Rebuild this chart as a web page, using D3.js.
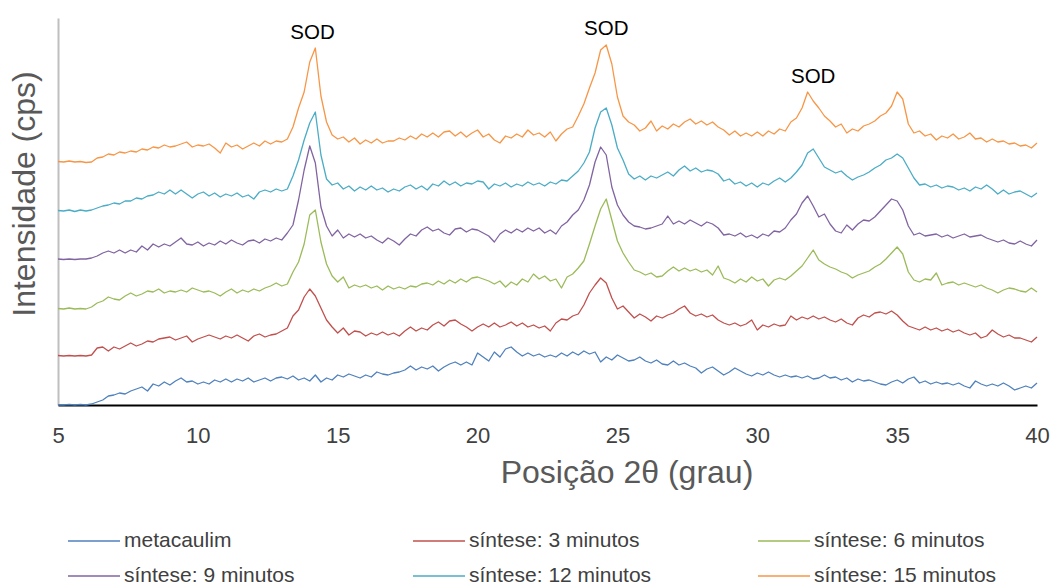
<!DOCTYPE html>
<html>
<head>
<meta charset="utf-8">
<script src="https://cdn.jsdelivr.net/npm/d3@7"></script>
<style>
  html, body { margin: 0; padding: 0; background: #fff; }
  svg { display: block; font-family: "Liberation Sans", Arial, sans-serif; }
</style>
</head>
<body>
<svg id="chart" width="1051" height="587"></svg>
<script>
// 2θ positions (degrees), one sample every 0.2°
const twoTheta = d3.range(176).map(i => +(5 + 0.2 * i).toFixed(1));
const xTicks = [5, 10, 15, 20, 25, 30, 35, 40];

// Stacked diffractogram intensities (arbitrary units, offsets included as plotted)
const metacaulim = [
  0, 0, 0.5, 0, 0.5, 0, 1, 3, 5, 9,
  10, 12, 11, 14, 16, 18, 14, 21, 19, 23,
  20, 24, 27, 23, 24, 21, 23, 21, 25, 23,
  26, 23, 26, 24, 27, 23, 25, 27, 24, 27,
  28, 26, 29, 25, 27, 24, 30, 23, 27, 25,
  30, 28, 31, 29, 27, 30, 28, 33, 31, 30,
  32, 33, 35, 39, 35, 38, 36, 39, 34, 38,
  41, 43, 40, 43, 40, 52, 48, 44, 53, 48,
  56, 58, 53, 49, 52, 49, 51, 48, 50, 48,
  52, 49, 53, 50, 54, 51, 53, 43, 48, 45,
  50, 47, 44, 45, 48, 44, 42, 45, 41, 40,
  44, 40, 42, 39, 37, 32, 36, 38, 34, 30,
  33, 37, 34, 31, 29, 32, 30, 33, 30, 28,
  30, 28, 29, 27, 29, 26, 27, 30, 27, 28,
  25, 27, 23, 26, 24, 25, 23, 21, 20, 23,
  25, 22, 26, 28, 22, 24, 21, 23, 21, 22,
  20, 22, 19, 17, 24, 21, 19, 21, 19, 22,
  19, 15, 17, 19, 17, 22
];
const sintese3 = [
  49.5, 49, 49.5, 49, 49.5, 49, 50, 57, 58, 54,
  58, 56, 59, 62, 59, 61, 64, 63, 66, 67,
  68, 65, 67, 69, 63, 66, 68, 70, 68, 66,
  69, 67, 70, 67, 64, 69, 71, 68, 70, 71,
  74, 77, 89, 95, 108, 116, 109, 97, 85, 78,
  72, 77, 70, 74, 73, 69, 72, 70, 73, 70,
  72, 69, 74, 78, 74, 77, 75, 80, 83, 79,
  84, 85, 81, 78, 74, 78, 81, 78, 82, 78,
  80, 83, 79, 82, 78, 80, 77, 79, 74, 82,
  86, 85, 89, 91, 100, 112, 120, 127, 122, 107,
  96, 99, 93, 87, 91, 88, 84, 89, 87, 90,
  92, 96, 99, 92, 89, 91, 88, 90, 85, 82,
  80, 82, 79, 81, 85, 75, 80, 78, 81, 79,
  80, 89, 85, 88, 86, 89, 86, 88, 85, 83,
  86, 82, 80, 87, 90, 88, 92, 93, 91, 94,
  90, 84, 79, 77, 75, 78, 75, 77, 74, 76,
  73, 75, 72, 70, 72, 67, 69, 75, 71, 68,
  70, 67, 67, 65, 63, 68
];
const sintese6 = [
  96.5, 96, 97, 96, 96.5, 96, 98, 102, 104, 108,
  106, 105, 109, 112, 109, 111, 114, 113, 116, 112,
  114, 113, 115, 113, 117, 115, 113, 114, 112, 109,
  113, 116, 112, 115, 113, 116, 114, 117, 119, 122,
  119, 121, 133, 143, 161, 190, 195, 163, 141, 129,
  123, 128, 117, 120, 118, 120, 117, 119, 115, 119,
  116, 118, 116, 119, 118, 121, 122, 120, 124, 121,
  125, 122, 126, 123, 127, 128, 126, 124, 121, 124,
  118, 123, 120, 126, 123, 131, 126, 129, 124, 126,
  117, 128, 131, 137, 144, 161, 179, 196, 206, 185,
  164, 152, 143, 135, 133, 130, 132, 128, 129, 134,
  138, 134, 137, 134, 136, 133, 135, 130, 139, 127,
  125, 122, 126, 123, 128, 124, 126, 119, 125, 127,
  125, 129, 134, 139, 147, 155, 145, 141, 138, 136,
  133, 131, 127, 130, 132, 134, 138, 141, 146, 152,
  158, 151, 133, 125, 123, 126, 125, 132, 120, 122,
  123, 120, 122, 120, 118, 120, 117, 115, 112, 115,
  117, 116, 114, 113, 117, 113
];
const sintese9 = [
  146, 145.5, 146, 145.5, 146, 146, 147, 149, 152, 154,
  152, 155, 152, 155, 153, 159, 155, 161, 158, 161,
  159, 163, 167, 161, 160, 163, 159, 162, 160, 164,
  161, 165, 162, 160, 164, 165, 162, 166, 164, 167,
  165, 172, 180, 205, 235, 259, 242, 198, 179, 169,
  175, 167, 171, 168, 171, 167, 169, 165, 162, 167,
  164, 160, 166, 171, 169, 175, 178, 174, 176, 172,
  170, 176, 177, 173, 176, 175, 172, 169, 163, 171,
  175, 172, 176, 173, 177, 174, 177, 172, 175, 171,
  179, 183, 190, 195, 205, 220, 243, 258, 250, 218,
  200, 190, 183, 179, 178, 176, 177, 179, 181, 189,
  181, 184, 181, 185, 182, 179, 183, 181, 177, 170,
  171, 169, 172, 168, 170, 167, 171, 169, 174, 173,
  177, 185, 191, 202, 209, 199, 188, 191, 181, 174,
  172, 180, 175, 181, 185, 184, 188, 194, 200, 206,
  204, 195, 179, 170, 172, 169, 170, 171, 168, 170,
  167, 169, 171, 168, 169, 170, 167, 165, 163, 165,
  162, 161, 164, 161, 159, 165
];
const sintese12 = [
  194.5, 194, 195, 193.5, 195, 194, 195, 197, 199, 200,
  202, 201, 204, 204, 207, 206, 209, 210, 213, 211,
  215, 211, 215, 211, 207, 211, 213, 209, 212, 208,
  211, 209, 212, 208, 210, 206, 213, 215, 213, 216,
  214, 216, 229, 245, 265, 282, 293, 250, 226, 220,
  222, 216, 219, 214, 218, 215, 219, 215, 217, 213,
  216, 214, 218, 220, 216, 219, 215, 221, 219, 224,
  220, 223, 219, 222, 221, 224, 223, 216, 221, 219,
  222, 218, 221, 219, 223, 220, 222, 219, 223, 221,
  225, 224, 229, 234, 242, 253, 277, 293, 297, 280,
  257, 245, 231, 226, 229, 225, 229, 227, 230, 233,
  229, 235, 239, 234, 237, 233, 235, 234, 231, 224,
  226, 221, 223, 219, 222, 218, 222, 220, 224, 227,
  223, 227, 233, 240, 252, 256, 247, 238, 235, 232,
  234, 229, 225, 228, 230, 233, 237, 240, 245, 247,
  251, 247, 237, 227, 220, 221, 218, 220, 217, 219,
  218, 215, 217, 214, 218, 216, 220, 216, 211, 215,
  211, 213, 214, 211, 208, 212
];
const sintese15 = [
  243.5, 243, 244, 243, 243.5, 242.5, 243, 247, 248, 251,
  250, 253, 252, 254, 253, 256, 255, 258, 257, 260,
  258, 259, 261, 263, 258, 260, 259, 261, 257, 252,
  262, 258, 260, 256, 259, 262, 259, 264, 261, 264,
  263, 266, 278, 297, 313, 343, 357, 309, 283, 270,
  266, 268, 263, 267, 261, 265, 262, 266, 262, 264,
  264, 267, 265, 269, 266, 271, 268, 272, 268, 273,
  274, 269, 273, 268, 272, 275, 268, 271, 265, 262,
  269, 267, 271, 268, 275, 270, 272, 268, 273, 264,
  271, 276, 278, 289, 301, 317, 332, 355, 360, 341,
  308, 289, 283, 280, 274, 277, 284, 274, 279, 276,
  281, 278, 283, 286, 281, 284, 280, 283, 278, 275,
  270, 274, 269, 272, 269, 273, 269, 274, 271, 276,
  274, 283, 287, 297, 313, 304, 297, 289, 284, 278,
  281, 272, 276, 274, 279, 281, 284, 289, 292, 299,
  313, 306, 281, 272, 274, 269, 271, 265, 269, 267,
  271, 266, 268, 272, 266, 267, 263, 266, 263, 264,
  261, 262, 259, 260, 257, 262
];

const seriesNames = ["metacaulim", "síntese: 3 minutos", "síntese: 6 minutos",
                     "síntese: 9 minutos", "síntese: 12 minutos", "síntese: 15 minutos"];
const seriesValues = [metacaulim, sintese3, sintese6, sintese9, sintese12, sintese15];
const seriesColors = ["#4F81BD", "#C0504D", "#9BBB59", "#8064A2", "#4BACC6", "#F79646"];

const peakLabels = ["SOD", "SOD", "SOD"];
const peakPositions = [14.1, 24.6, 32.0];
const peakLabelValues = [366, 370, 322];

// ---- drawing ----
const svg = d3.select("#chart");
const x = d3.scaleLinear().domain([5, 40]).range([58, 1037]);
const y = d3.scaleLinear().domain([0, 387]).range([405, 18]);

// left (value) axis: line only
const yAxis = svg.append("g")
  .attr("transform", `translate(${x(5)},0)`)
  .call(d3.axisLeft(y).tickValues([]).tickSize(0).tickSizeOuter(0));
yAxis.select(".domain").attr("stroke", "#BFBFBF").attr("stroke-width", 2);

// bottom axis
const xAxis = svg.append("g")
  .attr("transform", `translate(0,${y(0)})`)
  .call(d3.axisBottom(x).tickValues(xTicks).tickSize(0).tickSizeOuter(0).tickPadding(22)
        .tickFormat(d3.format("d")));
xAxis.select(".domain").attr("stroke", "#000").attr("stroke-width", 2.2);
xAxis.selectAll("text")
  .attr("font-size", 22)
  .attr("font-family", "Liberation Sans, Arial, sans-serif")
  .attr("fill", "#404040");

// series
const line = d3.line()
  .x((d, i) => x(twoTheta[i]))
  .y(d => y(d))
  .curve(d3.curveLinear);

svg.append("g").selectAll("path")
  .data(seriesValues)
  .join("path")
  .attr("d", d => line(d))
  .attr("fill", "none")
  .attr("stroke", (d, i) => seriesColors[i])
  .attr("stroke-width", 1.3)
  .attr("stroke-linejoin", "round");

// peak labels
svg.append("g").selectAll("text")
  .data(peakLabels)
  .join("text")
  .attr("x", (d, i) => x(peakPositions[i]))
  .attr("y", (d, i) => y(peakLabelValues[i]))
  .attr("text-anchor", "middle")
  .attr("font-size", 20.5)
  .attr("fill", "#000")
  .text(d => d);

// axis titles
svg.append("text")
  .attr("x", 627).attr("y", 483)
  .attr("text-anchor", "middle")
  .attr("font-size", 32)
  .attr("fill", "#595959")
  .text("Posição 2θ (grau)");

svg.append("text")
  .attr("transform", "translate(35,194) rotate(-90)")
  .attr("text-anchor", "middle")
  .attr("font-size", 32)
  .attr("fill", "#595959")
  .text("Intensidade (cps)");

// legend
const legendCols = [68, 413, 758];
const legendRows = [541, 576];
const legend = svg.append("g");
seriesNames.forEach((name, i) => {
  const lx = legendCols[i % 3];
  const ly = legendRows[Math.floor(i / 3)];
  legend.append("line")
    .attr("x1", lx).attr("x2", lx + 52)
    .attr("y1", ly).attr("y2", ly)
    .attr("stroke", seriesColors[i]).attr("stroke-width", 1.5);
  legend.append("text")
    .attr("x", lx + 56).attr("y", ly + 5.5)
    .attr("font-size", 21)
    .attr("fill", "#404040")
    .text(name);
});
</script>
</body>
</html>
